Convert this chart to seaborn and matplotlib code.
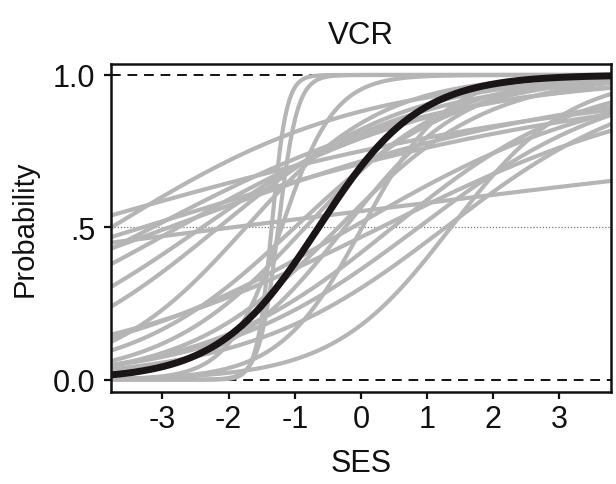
import numpy as np
import pandas as pd
import matplotlib
matplotlib.use("Agg")
import matplotlib.pyplot as plt
import seaborn as sns

sns.set_theme(style="white")
plt.rcParams["font.family"] = ["Liberation Sans", "DejaVu Sans"]

# Logistic curves: p = 1 / (1 + exp(-slope * (SES - center)))
group_centers = [-4.40, -1.94, -3.15, -2.90, -2.76, -3.30, -2.15, -2.40, -1.74,
                 -1.00, -0.84, -0.34, -0.24, -0.13, 0.02, 0.48, 0.87, 1.28,
                 1.36, -1.35, -1.25, -1.20, -3.77, 0.30]
group_slopes = [0.25, 0.11, 0.45, 0.32, 0.485, 0.27, 0.71, 0.60, 0.96,
                0.81, 0.93, 0.88, 1.10, 0.50, 1.60, 0.70, 0.65, 0.66,
                1.12, 9.0, 7.0, 2.5, 0.53, 0.43]
overall_center = -0.64
overall_slope = 1.32

x_min, x_max = -3.78, 3.78
ses = np.linspace(x_min, x_max, 400)

rows = []
for gid, (c, s) in enumerate(zip(group_centers, group_slopes)):
    p = 1.0 / (1.0 + np.exp(-s * (ses - c)))
    rows.append(pd.DataFrame({"SES": ses, "Probability": p, "group": gid}))
groups = pd.concat(rows, ignore_index=True)
overall = pd.DataFrame({
    "SES": ses,
    "Probability": 1.0 / (1.0 + np.exp(-overall_slope * (ses - overall_center))),
})

fig = plt.figure(figsize=(6.16, 4.85), dpi=100)
ax = fig.add_axes([0.180, 0.190, 0.812, 0.676])

# reference lines
ax.axhline(1.0, color="#111111", lw=1.4, ls=(0, (5, 3.5)), zorder=1)
ax.axhline(0.0, color="#111111", lw=1.4, ls=(0, (5, 3.5)), zorder=1)
ax.axhline(0.5, color="#777777", lw=0.9, ls=(0, (1, 1.5)), zorder=1)

sns.lineplot(data=groups, x="SES", y="Probability", units="group",
             estimator=None, color="#b5b5b5", lw=3.0, ax=ax, zorder=2,
             legend=False)
sns.lineplot(data=overall, x="SES", y="Probability", color="#1a1516",
             lw=5.0, ax=ax, zorder=3, legend=False)

ax.set_xlim(x_min, x_max)
ax.set_ylim(-0.04, 1.036)
ax.set_xticks([-3, -2, -1, 0, 1, 2, 3])
ax.set_xticklabels(["-3", "-2", "-1", "0", "1", "2", "3"])
ax.set_yticks([0.0, 0.5, 1.0])
ax.set_yticklabels(["0.0", ".5", "1.0"])

for side in ["left", "right", "top", "bottom"]:
    ax.spines[side].set_visible(True)
    ax.spines[side].set_color("#111111")
    ax.spines[side].set_linewidth(1.8)

ax.tick_params(axis="both", direction="out", length=5, width=1.6,
               color="#111111", labelsize=22, labelcolor="#111111",
               left=True, bottom=True)
ax.tick_params(axis="y", pad=6)
ax.tick_params(axis="x", pad=4)
ax.set_xlabel("SES", fontsize=22, color="#111111", labelpad=10)
ax.set_ylabel("Probability", fontsize=21, color="#111111", labelpad=10)
ax.set_title("VCR", fontsize=22.5, color="#111111", pad=15)

fig.savefig("out.png", dpi=100)
